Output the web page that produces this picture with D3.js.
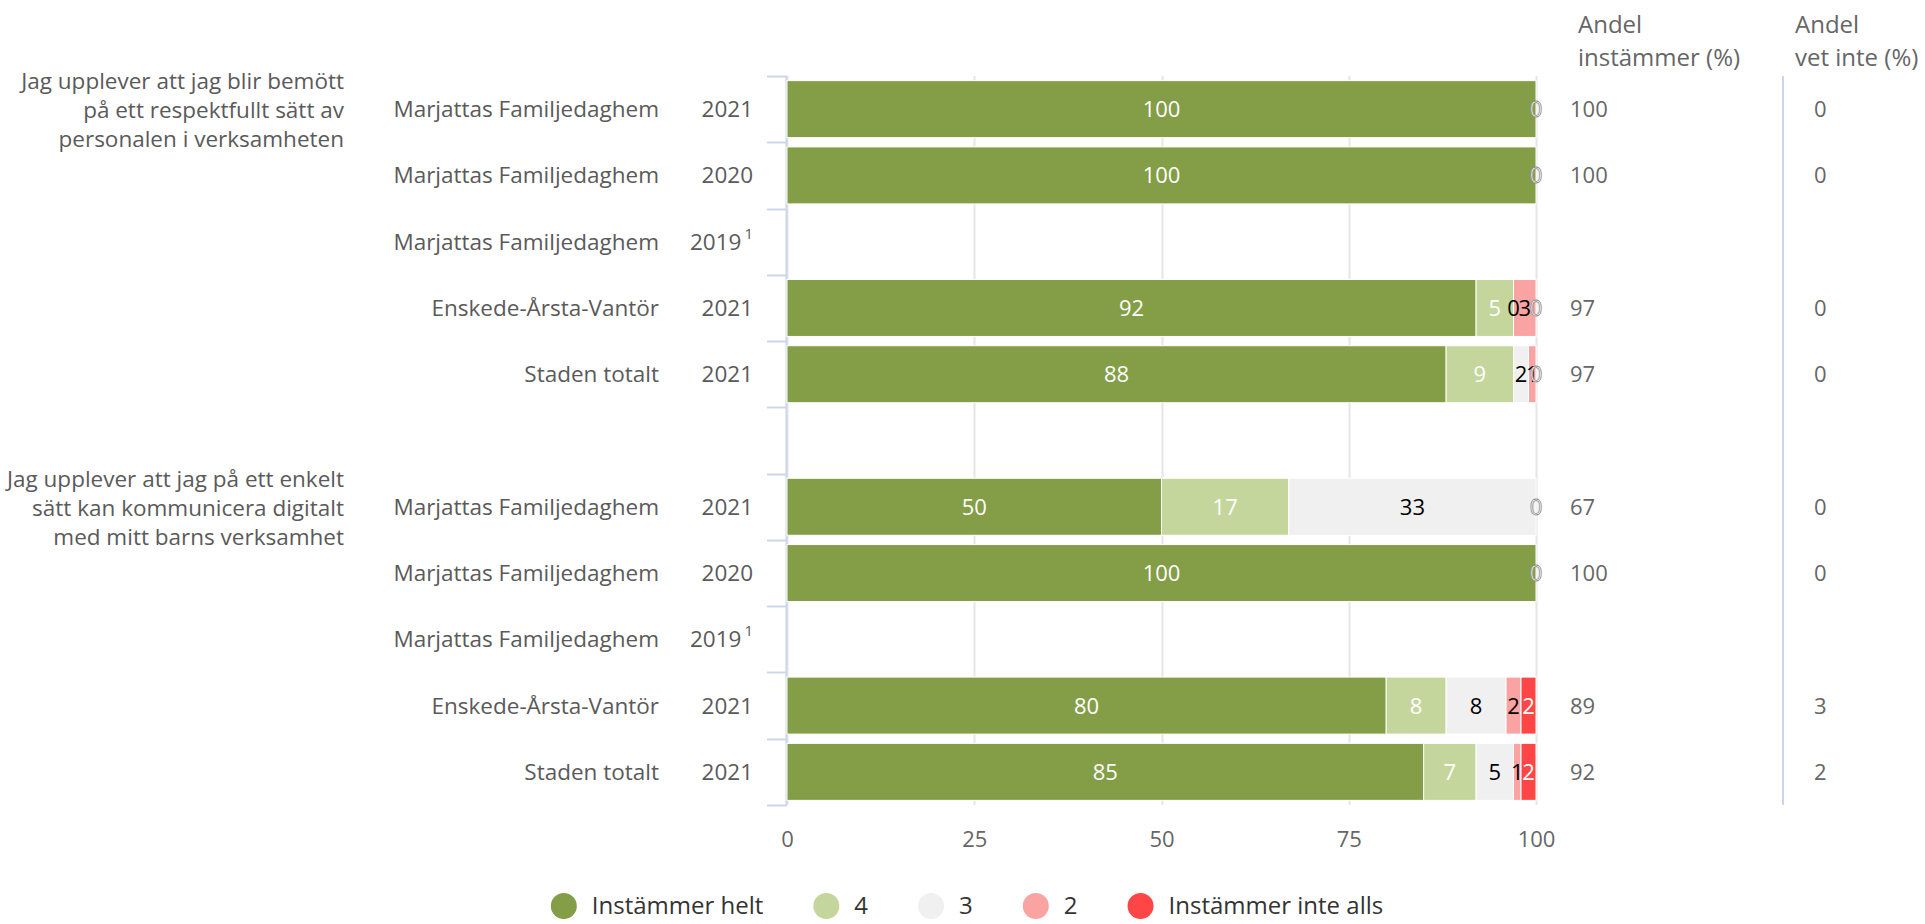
<!DOCTYPE html>
<html>
<head>
<meta charset="utf-8">
<script src="https://cdn.jsdelivr.net/npm/d3@7"></script>
<style>
  body { margin: 0; background: #fff; }
  svg { display: block; font-family: "Open Sans", sans-serif; }
</style>
</head>
<body>
<svg id="chart" width="1925" height="924"></svg>
<script>
// ---------- data ----------
const rowNames = [
  "Marjattas Familjedaghem", "Marjattas Familjedaghem", "Marjattas Familjedaghem",
  "Enskede-Årsta-Vantör", "Staden totalt", "",
  "Marjattas Familjedaghem", "Marjattas Familjedaghem", "Marjattas Familjedaghem",
  "Enskede-Årsta-Vantör", "Staden totalt"
];
const rowYears = ["2021", "2020", "2019", "2021", "2021", "", "2021", "2020", "2019", "2021", "2021"];
const rowFootnote = ["", "", "1", "", "", "", "", "", "1", "", ""];

const groupTitles = [
  ["Jag upplever att jag blir bemött", "på ett respektfullt sätt av", "personalen i verksamheten"],
  ["Jag upplever att jag på ett enkelt", "sätt kan kommunicera digitalt", "med mitt barns verksamhet"]
];
const groupStartRow = [0, 6];

const seriesNames = ["Instämmer helt", "4", "3", "2", "Instämmer inte alls"];
const seriesColors = ["#839e46", "#c4d69c", "#f0f0f0", "#f9a3a3", "#ff4646"];
const seriesTextColors = ["#fff", "#fff", "#000", "#000", "#fff"];

const instammerHelt = [100, 100, null, 92, 88, null, 50, 100, null, 80, 85];
const varde4 = [0, 0, null, 5, 9, null, 17, 0, null, 8, 7];
const varde3 = [0, 0, null, 0, 2, null, 33, 0, null, 8, 5];
const varde2 = [0, 0, null, 3, 1, null, 0, 0, null, 2, 1];
const instammerInteAlls = [0, 0, null, 0, 0, null, 0, 0, null, 2, 2];

const andelInstammer = [100, 100, null, 97, 97, null, 67, 100, null, 89, 92];
const andelVetInte = [0, 0, null, 0, 0, null, 0, 0, null, 3, 2];

const xTicks = [0, 25, 50, 75, 100];

// ---------- setup ----------
const svg = d3.select("#chart");
const textGray = "#5a5a5a";
const axisBlue = "#ccd6eb";

const x = d3.scaleLinear().domain([0, 100]).range([787, 1536]);
const y = d3.scaleBand().domain(d3.range(rowNames.length)).range([76, 805]);
const step = y.step();
const barH = step * 0.86;

const seriesValues = [instammerHelt, varde4, varde3, varde2, instammerInteAlls];

// stacked rows
const stacked = rowNames.map((n, i) => {
  let acc = 0;
  return seriesValues.map((vals, s) => {
    const v = vals[i];
    if (v === null) return null;
    const seg = { row: i, s: s, value: v, x0: acc, x1: acc + v };
    acc += v;
    return seg;
  }).filter((d) => d !== null);
});

// ---------- grid ----------
svg.append("g")
  .selectAll("line")
  .data(xTicks)
  .enter()
  .append("line")
  .attr("x1", (d) => Math.round(x(d)) + 0.5)
  .attr("x2", (d) => Math.round(x(d)) + 0.5)
  .attr("y1", y.range()[0])
  .attr("y2", y.range()[1])
  .attr("stroke", "#e6e6e6")
  .attr("stroke-width", 2);

// x axis labels
svg.append("g")
  .attr("transform", `translate(0,${y.range()[1]})`)
  .call(d3.axisBottom(x).tickValues(xTicks).tickSize(0).tickPadding(26))
  .call((g) => g.select(".domain").remove())
  .selectAll("text")
  .attr("font-family", "Open Sans")
  .attr("font-size", 22)
  .attr("fill", "#666");

// left axis line and ticks at band edges
const edges = d3.range(rowNames.length + 1).map((i) => y.range()[0] + i * step);
svg.append("line")
  .attr("x1", x(0) - 0.5).attr("x2", x(0) - 0.5)
  .attr("y1", y.range()[0]).attr("y2", y.range()[1])
  .attr("stroke", axisBlue).attr("stroke-width", 2);
svg.append("g")
  .selectAll("line")
  .data(edges)
  .enter()
  .append("line")
  .attr("x1", x(0) - 20)
  .attr("x2", x(0))
  .attr("y1", (d) => Math.round(d) + 0.5)
  .attr("y2", (d) => Math.round(d) + 0.5)
  .attr("stroke", axisBlue)
  .attr("stroke-width", 2);

// right column separator
svg.append("line")
  .attr("x1", 1783).attr("x2", 1783)
  .attr("y1", y.range()[0]).attr("y2", y.range()[1])
  .attr("stroke", axisBlue).attr("stroke-width", 2);

// ---------- bars ----------
const segs = stacked.flat();
svg.append("g")
  .selectAll("rect")
  .data(segs.filter((d) => d.value > 0))
  .enter()
  .append("rect")
  .attr("x", (d) => x(d.x0))
  .attr("y", (d) => y(d.row) + (step - barH) / 2)
  .attr("width", (d) => x(d.x1) - x(d.x0))
  .attr("height", barH)
  .attr("fill", (d) => seriesColors[d.s])
  .attr("stroke", "#fff")
  .attr("stroke-width", 1);

// data labels (skip a label hidden under a later one at same spot)
const labelSegs = segs.filter((d, i) => {
  const c = (d.x0 + d.x1) / 2;
  return !segs.some((o, j) => j > i && o.row === d.row && (o.x0 + o.x1) / 2 === c);
});
svg.append("g")
  .selectAll("text")
  .data(labelSegs)
  .enter()
  .append("text")
  .attr("x", (d) => x((d.x0 + d.x1) / 2))
  .attr("y", (d) => y(d.row) + step / 2 + 8)
  .attr("text-anchor", "middle")
  .attr("font-size", 22)
  .attr("fill", (d) => seriesTextColors[d.s])
  .attr("stroke", (d) => (d.value === 0 && seriesTextColors[d.s] === "#fff" ? "#888" : "none"))
  .attr("stroke-width", 0.8)
  .text((d) => d.value);

// ---------- category labels ----------
const catG = svg.append("g").attr("font-size", 22.5).attr("fill", textGray);
catG.selectAll(".name")
  .data(rowNames)
  .enter()
  .append("text")
  .attr("class", "name")
  .attr("x", 659)
  .attr("y", (d, i) => y(i) + step / 2 + 8)
  .attr("text-anchor", "end")
  .text((d) => d);

const yearText = catG.selectAll(".year")
  .data(rowYears)
  .enter()
  .append("text")
  .attr("class", "year")
  .attr("x", 753)
  .attr("y", (d, i) => y(i) + step / 2 + 8)
  .attr("text-anchor", "end");
yearText.append("tspan").text((d) => d);
yearText.append("tspan")
  .attr("font-size", 15)
  .attr("dy", -11)
  .attr("dx", 3)
  .text((d, i) => rowFootnote[i]);

// group titles
groupTitles.forEach((lines, g) => {
  const top = y(groupStartRow[g]);
  svg.append("g")
    .selectAll("text")
    .data(lines)
    .enter()
    .append("text")
    .attr("x", 344)
    .attr("y", (d, i) => top + 13 + i * 29)
    .attr("text-anchor", "end")
    .attr("font-size", 22.5)
    .attr("fill", textGray)
    .text((d) => d);
});

// ---------- right columns ----------
const headers = [
  { x: 1578, lines: ["Andel", "instämmer (%)"] },
  { x: 1795, lines: ["Andel", "vet inte (%)"] }
];
headers.forEach((h) => {
  svg.append("g")
    .selectAll("text")
    .data(h.lines)
    .enter()
    .append("text")
    .attr("x", h.x)
    .attr("y", (d, i) => 33 + i * 33)
    .attr("font-size", 24)
    .attr("fill", "#666")
    .text((d) => d);
});

const colG = svg.append("g").attr("font-size", 22).attr("fill", "#666");
andelInstammer.forEach((v, i) => {
  if (v === null) return;
  colG.append("text")
    .attr("x", 1570)
    .attr("y", y(i) + step / 2 + 8)
    .text(v);
});
andelVetInte.forEach((v, i) => {
  if (v === null) return;
  colG.append("text")
    .attr("x", 1814)
    .attr("y", y(i) + step / 2 + 8)
    .text(v);
});

// ---------- legend ----------
const legend = svg.append("g");
let lx = 0;
seriesNames.forEach((name, s) => {
  const item = legend.append("g").attr("transform", `translate(${lx},0)`);
  item.append("circle").attr("cx", 13).attr("cy", 0).attr("r", 13).attr("fill", seriesColors[s]);
  const t = item.append("text")
    .attr("x", 41)
    .attr("y", 8)
    .attr("font-size", 24)
    .attr("fill", "#333")
    .text(name);
  lx += 41 + t.node().getComputedTextLength() + 50;
});
const legendW = lx - 50;
legend.attr("transform", `translate(${967 - legendW / 2},906)`);
</script>
</body>
</html>
